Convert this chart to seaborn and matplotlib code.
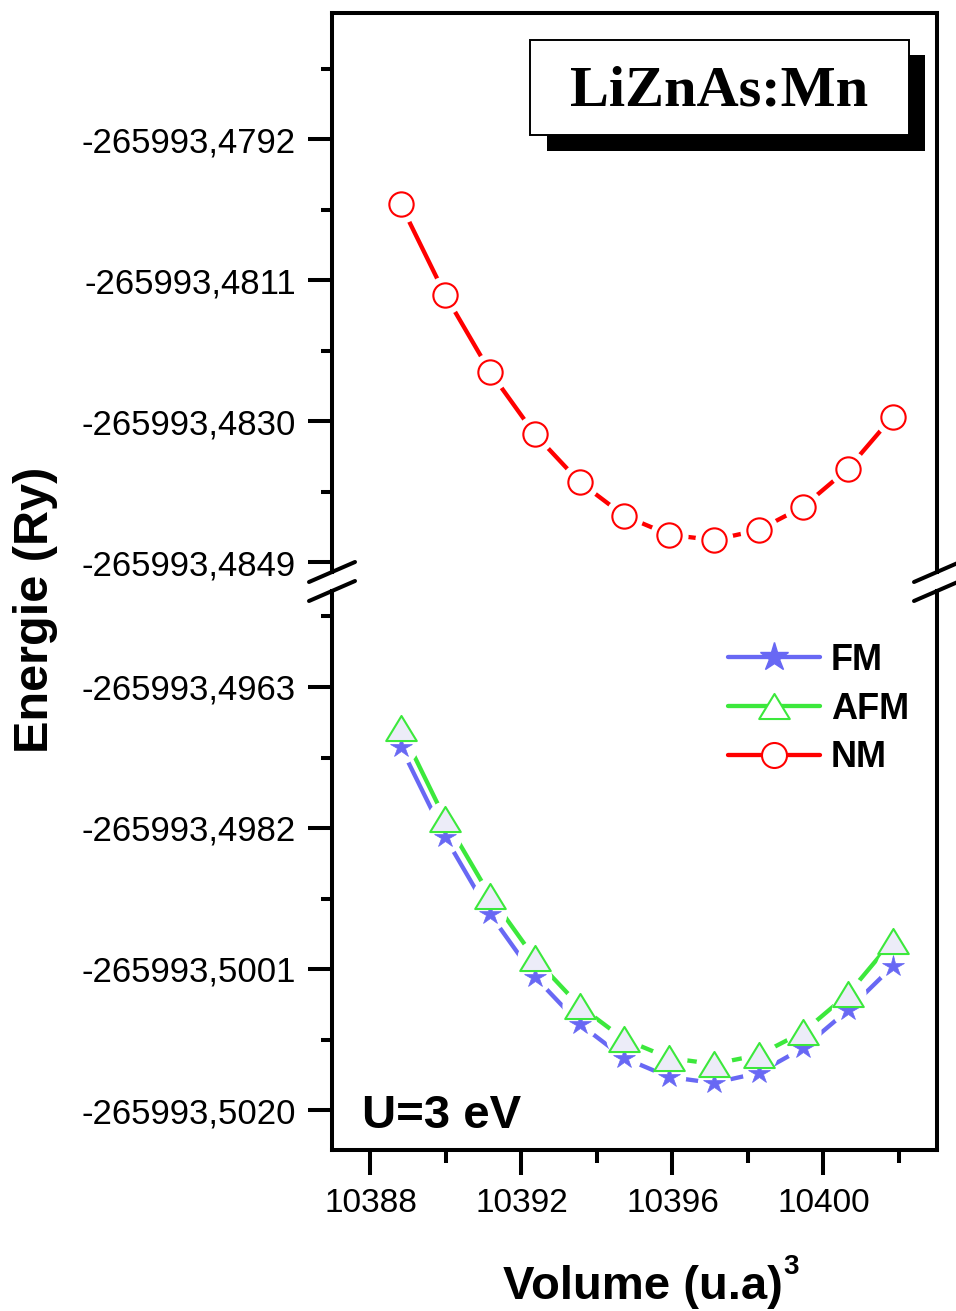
import matplotlib
matplotlib.use("Agg")
import matplotlib.pyplot as plt
from matplotlib.lines import Line2D
from matplotlib.patches import Rectangle
from matplotlib.path import Path
from matplotlib.ticker import FixedLocator, FixedFormatter
import seaborn as sns

# ---- data -------------------------------------------------------------
volume = [10388.80, 10389.98, 10391.17, 10392.35, 10393.54, 10394.72,
          10395.91, 10397.09, 10398.28, 10399.46, 10400.65, 10401.83]

energy_fm = [-265993.497105, -265993.498325, -265993.499363, -265993.500204,
             -265993.500841, -265993.501299, -265993.501555, -265993.501636,
             -265993.501501, -265993.501165, -265993.500653, -265993.500065]

energy_afm = [-265993.496857, -265993.498083, -265993.499116, -265993.499956,
              -265993.500599, -265993.501047, -265993.501299, -265993.501380,
              -265993.501259, -265993.500949, -265993.500437, -265993.499719]

energy_nm = [-265993.480080, -265993.481302, -265993.482340, -265993.483175,
             -265993.483822, -265993.484276, -265993.484532, -265993.484604,
             -265993.484469, -265993.484155, -265993.483643, -265993.482942]

series_labels = ["FM", "AFM", "NM"]

x_major = [10388, 10392, 10396, 10400]
x_minor = [10390, 10394, 10398, 10402]
x_labels = ["10388", "10392", "10396", "10400"]

y_top_major = [-265993.4792, -265993.4811, -265993.4830, -265993.4849]
y_top_labels = ["-265993,4792", "-265993,4811", "-265993,4830", "-265993,4849"]
y_bot_major = [-265993.4963, -265993.4982, -265993.5001, -265993.5020]
y_bot_labels = ["-265993,4963", "-265993,4982", "-265993,5001", "-265993,5020"]

title_text = "LiZnAs:Mn"
u_text = "U=3 eV"
xlabel_text = "Volume (u.a)"
ylabel_text = "Energie (Ry)"

# ---- style ------------------------------------------------------------
sns.set_theme(style="white")
plt.rcParams["font.family"] = ["Liberation Sans", "DejaVu Sans"]
for key in ("text.color", "axes.labelcolor", "xtick.color", "ytick.color",
            "axes.edgecolor"):
    plt.rcParams[key] = "black"

C_FM = "#6868F4"
C_AFM = "#3CE83C"
C_NM = "#FF0000"
# closed triangle, a little flatter than the default "^"
TRI = Path([(0, 0.82), (-1, -0.82), (1, -0.82), (0, 0.82)],
           [Path.MOVETO, Path.LINETO, Path.LINETO, Path.CLOSEPOLY])

W, H = 956, 1311
fig = plt.figure(figsize=(W / 100, H / 100), dpi=100)


def fx(px):
    return px / W


def fy(py):
    return 1 - py / H


LEFT, RIGHT = 332, 937
TOP_Y0, TOP_Y1 = 13, 572
BOT_Y0, BOT_Y1 = 591, 1150
PX_PER_E = 141 / 0.0019
PX_PER_V = 151 / 4.0

ax_top = fig.add_axes([fx(LEFT), fy(TOP_Y1), (RIGHT - LEFT) / W, (TOP_Y1 - TOP_Y0) / H])
ax_bot = fig.add_axes([fx(LEFT), fy(BOT_Y1), (RIGHT - LEFT) / W, (BOT_Y1 - BOT_Y0) / H])

xlim = (10388 - (370.5 - LEFT) / PX_PER_V, 10388 + (RIGHT - 370.5) / PX_PER_V)
for ax in (ax_top, ax_bot):
    ax.set_xlim(*xlim)
    ax.set_facecolor("white")

ax_top.set_ylim(y_top_major[-1] - (TOP_Y1 - 562) / PX_PER_E,
                y_top_major[0] + (139 - TOP_Y0) / PX_PER_E)
ax_bot.set_ylim(y_bot_major[-1] - (BOT_Y1 - 1110) / PX_PER_E,
                y_bot_major[0] + (687 - BOT_Y0) / PX_PER_E)

# ---- lines ------------------------------------------------------------
LW = 3.1
sns.lineplot(x=volume, y=energy_nm, ax=ax_top, color=C_NM, linewidth=LW,
             estimator=None, sort=False, zorder=2)
sns.lineplot(x=volume, y=energy_afm, ax=ax_bot, color=C_AFM, linewidth=LW,
             estimator=None, sort=False, zorder=2)
sns.lineplot(x=volume, y=energy_fm, ax=ax_bot, color=C_FM, linewidth=LW,
             estimator=None, sort=False, zorder=2)

# white gaps around the symbols
ax_top.plot(volume, energy_nm, ls="none", marker="o", ms=27.5, mfc="white",
            mec="none", zorder=2.5)
ax_bot.plot(volume, energy_afm, ls="none", marker="o", ms=26, mfc="white",
            mec="none", zorder=2.5)
ax_bot.plot(volume, energy_fm, ls="none", marker="o", ms=24, mfc="white",
            mec="none", zorder=2.5)

# symbols
ax_top.plot(volume, energy_nm, ls="none", marker="o", ms=17.5, mfc="white",
            mec=C_NM, mew=1.5, zorder=3)
ax_bot.plot(volume, energy_fm, ls="none", marker="*", ms=16, mfc=C_FM,
            mec=C_FM, mew=0.5, zorder=3)
ax_bot.plot(volume, energy_afm, ls="none", marker=TRI, ms=22, mfc="#ECECF8",
            mec=C_AFM, mew=1.5, zorder=3.1)

# ---- axes, ticks ------------------------------------------------------
SPINE = 2.9
for ax in (ax_top, ax_bot):
    for s in ax.spines.values():
        s.set_linewidth(SPINE)
        s.set_color("black")
    ax.grid(False)
    ax.set_xlabel("")
    ax.set_ylabel("")

ax_top.spines["bottom"].set_visible(False)
ax_bot.spines["top"].set_visible(False)


def minors(majors):
    step = majors[1] - majors[0]
    pts = [majors[0] - step / 2]
    pts += [(a + b) / 2 for a, b in zip(majors[:-1], majors[1:])]
    pts.append(majors[-1] + step / 2)
    return pts


TICK_FS = 25
for ax, maj, lab in ((ax_top, y_top_major, y_top_labels),
                     (ax_bot, y_bot_major, y_bot_labels)):
    ax.yaxis.set_major_locator(FixedLocator(maj))
    ax.yaxis.set_major_formatter(FixedFormatter(lab))
    ax.yaxis.set_minor_locator(FixedLocator(minors(maj)))
    ax.tick_params(axis="y", which="major", direction="out", length=17,
                   width=SPINE, pad=9, labelsize=TICK_FS, left=True, right=False)
    ax.tick_params(axis="y", which="minor", direction="out", length=8,
                   width=SPINE, left=True, right=False)

ax_top.tick_params(axis="x", which="both", bottom=False, top=False,
                   labelbottom=False)
ax_bot.xaxis.set_major_locator(FixedLocator(x_major))
ax_bot.xaxis.set_major_formatter(FixedFormatter(x_labels))
ax_bot.xaxis.set_minor_locator(FixedLocator(x_minor))
ax_bot.tick_params(axis="x", which="major", direction="out", length=18,
                   width=SPINE, pad=9, labelsize=TICK_FS - 1, bottom=True, top=False)
ax_bot.tick_params(axis="x", which="minor", direction="out", length=9,
                   width=SPINE, bottom=True, top=False)

# ---- axis break marks -------------------------------------------------
for xc in (LEFT, RIGHT):
    for yc in (572, 591):
        fig.add_artist(Line2D([fx(xc - 23), fx(xc + 23)], [fy(yc + 10), fy(yc - 10)],
                              color="black", lw=2.9, transform=fig.transFigure,
                              solid_capstyle="round"))

# ---- texts ------------------------------------------------------------
fig.text(fx(36), fy(610), ylabel_text, rotation=90, ha="center", va="center",
         fontsize=35, fontweight="bold")
fig.text(fx(503), fy(1299), xlabel_text, ha="left", va="baseline",
         fontsize=34, fontweight="bold")
fig.text(fx(783), fy(1274), "3", ha="left", va="baseline",
         fontsize=20, fontweight="bold")
fig.text(fx(362), fy(1128), u_text, ha="left", va="baseline",
         fontsize=34, fontweight="bold")

# title box with drop shadow
fig.add_artist(Rectangle((fx(547), fy(151)), (925 - 547) / W, (151 - 55) / H,
                         transform=fig.transFigure, facecolor="black",
                         edgecolor="black", lw=0, zorder=5))
fig.add_artist(Rectangle((fx(530), fy(135)), (909 - 530) / W, (135 - 40) / H,
                         transform=fig.transFigure, facecolor="white",
                         edgecolor="black", lw=1.4, zorder=6))
fig.text(fx(719.5), fy(105), title_text, ha="center", va="baseline",
         fontsize=42, fontweight="bold", zorder=7,
         family=["Liberation Serif", "DejaVu Serif"])

# ---- legend -----------------------------------------------------------
handles = [
    Line2D([], [], color=C_FM, lw=LW, marker="*", ms=21, mfc=C_FM, mec=C_FM),
    Line2D([], [], color=C_AFM, lw=LW, marker=TRI, ms=22, mfc="white",
           mec=C_AFM, mew=1.5),
    Line2D([], [], color=C_NM, lw=LW, marker="o", ms=18, mfc="white",
           mec=C_NM, mew=1.5),
]
leg = fig.legend(handles, series_labels, loc="upper left",
                 bbox_to_anchor=(fx(728), fy(643)), frameon=False,
                 borderpad=0, borderaxespad=0, handlelength=2.55,
                 handletextpad=0.3, labelspacing=0.38,
                 prop={"size": 26, "weight": "bold"})

fig.savefig("out.png", dpi=100, facecolor="white")
